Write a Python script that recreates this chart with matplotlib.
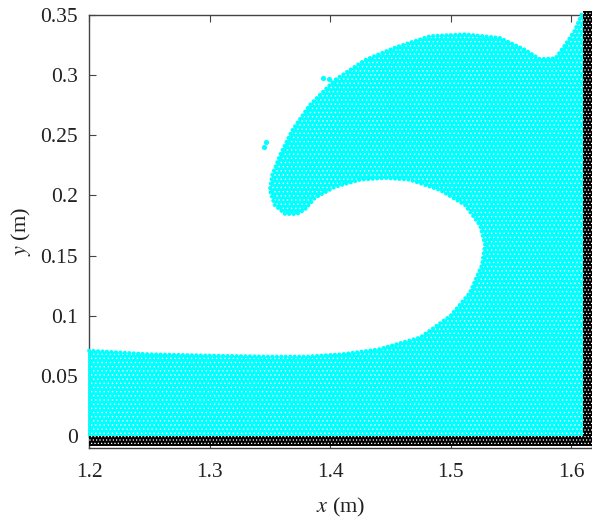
import matplotlib
matplotlib.use('Agg')
import matplotlib.pyplot as plt

plt.rcParams['font.family'] = ['Liberation Serif']
plt.rcParams['mathtext.fontset'] = 'stix'
plt.rcParams['hatch.linewidth'] = 0.5

# free surface of the wave (m)
fluid_x = [1.2, 1.2, 1.25, 1.293, 1.35, 1.38, 1.41, 1.44, 1.475, 1.5, 1.516, 1.526, 1.5286, 1.5245,
           1.512, 1.491, 1.466, 1.4456, 1.425, 1.404, 1.3876, 1.379, 1.3726, 1.3627, 1.354, 1.35,
           1.352, 1.3585, 1.3685, 1.383, 1.404, 1.429, 1.454, 1.483, 1.512, 1.541, 1.562, 1.574,
           1.587, 1.595, 1.603, 1.609, 1.61, 1.61, 1.2]
fluid_y = [0.0, 0.071, 0.068, 0.067, 0.066, 0.066, 0.068, 0.072, 0.082, 0.1, 0.119, 0.142, 0.159, 0.175,
           0.192, 0.2045, 0.213, 0.2145, 0.213, 0.207, 0.198, 0.188, 0.1845, 0.1845, 0.192, 0.2045,
           0.217, 0.2336, 0.254, 0.275, 0.296, 0.3126, 0.323, 0.3325, 0.334, 0.331, 0.321, 0.3134,
           0.314, 0.325, 0.337, 0.351, 0.352, 0.0, 0.0]
drops_x = [1.347, 1.345, 1.394, 1.399]
drops_y = [0.244, 0.24, 0.298, 0.297]

# fixed boundary (m)
floor_x = [1.2, 1.618, 1.618, 1.2]
floor_y = [-0.0085, -0.0085, 0.0, 0.0]
wall_x = [1.61, 1.618, 1.618, 1.61]
wall_y = [0.0, 0.0, 0.353, 0.353]

x_ticks = [1.2, 1.3, 1.4, 1.5, 1.6]
y_ticks = [0, 0.05, 0.1, 0.15, 0.2, 0.25, 0.3, 0.35]
x_labels = ['1.2', '1.3', '1.4', '1.5', '1.6']
y_labels = ['0', '0.05', '0.1', '0.15', '0.2', '0.25', '0.3', '0.35']

fig = plt.figure(figsize=(5.92, 5.19), dpi=100)
ax = fig.add_axes([89 / 592, 1 - 448 / 519, (592 - 89) / 592, (448 - 15) / 519])

cyan = '#00ffff'
ax.fill(fluid_x, fluid_y, facecolor=cyan, edgecolor='white', hatch='....', lw=0, zorder=2)
# beaded edge so the surface reads as particles
ax.plot(fluid_x[1:-2], fluid_y[1:-2], color=cyan, lw=2.8, ls=(0, (0.05, 1.1)),
        dash_capstyle='round', zorder=3, clip_on=False)
ax.plot(fluid_x[:2], fluid_y[:2], color=cyan, lw=2.0, zorder=3, clip_on=False)
ax.scatter(drops_x, drops_y, s=14, color=cyan, lw=0, zorder=3)
for bx, by in [(floor_x, floor_y), (wall_x, wall_y)]:
    ax.fill(bx, by, facecolor='black', edgecolor='white', hatch='.....', lw=0, zorder=4, clip_on=False)

ax.set_xlim(1.2, 1.6174)
ax.set_ylim(-0.01, 0.35)
ax.set_xticks(x_ticks, x_labels)
ax.set_yticks(y_ticks, y_labels)
ax.tick_params(direction='in', length=5, width=0.8, top=True, right=True, labelsize=15.5,
               color='#444444', labelcolor='#222222')
ax.tick_params(axis='x', pad=11)
ax.tick_params(axis='y', pad=8)
for s in ax.spines.values():
    s.set_color('#444444')
    s.set_linewidth(1.0)
ax.set_xlabel('$x$ (m)', fontsize=16, color='#222222', labelpad=10)
ax.set_ylabel('$y$ (m)', fontsize=16, color='#222222', labelpad=5)

fig.savefig('out.png', dpi=100)
